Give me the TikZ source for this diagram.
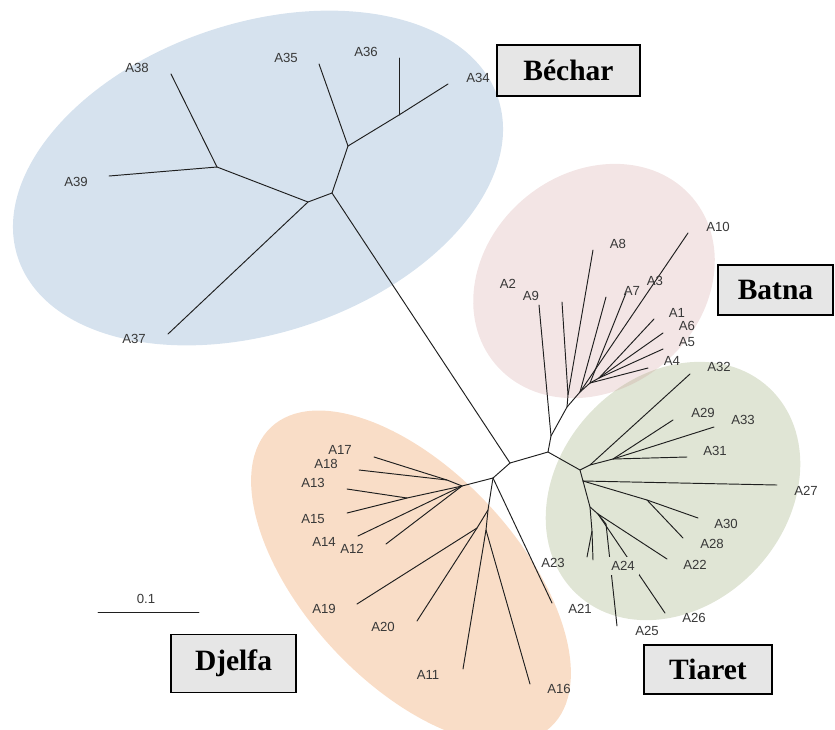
\documentclass[tikz,border=0pt]{standalone}
\usepackage{fontspec}
\setmainfont{Liberation Serif}
\setsansfont{Liberation Sans}
\definecolor{cblue}{RGB}{214,226,238}
\definecolor{cpink}{RGB}{243,229,229}
\definecolor{cgreen}{RGB}{224,229,213}
\definecolor{corange}{RGB}{249,221,199}
\definecolor{cmix}{RGB}{218,209,196}
\definecolor{boxgray}{RGB}{230,230,230}
\begin{document}
\begin{tikzpicture}[x=1pt,y=-1pt,
  br/.style={line width=0.95pt, draw=black!88, line cap=round, line join=round},
  lab/.style={font=\sffamily\fontsize{13.2}{15}\selectfont, text=black!78, inner sep=0pt},
  regbox/.style={draw=black, line width=1.3pt, fill=boxgray, inner sep=0pt,
     font=\bfseries\fontsize{29.5}{31}\selectfont}]
\useasboundingbox (0,0) rectangle (835,729);
\clip (0,0) rectangle (835,729);
% ---- regions ----
\fill[cblue, rotate around={18.4:(258,178)}] (258,178) ellipse [x radius=253pt, y radius=155pt];
\fill[cpink, rotate around={40:(594,281)}] (594,281) ellipse [x radius=129pt, y radius=108pt];
\fill[cgreen, rotate around={47:(673,491)}] (673,491) ellipse [x radius=141pt, y radius=114pt];
\begin{scope}
  \clip[rotate around={40:(594,281)}] (594,281) ellipse [x radius=129pt, y radius=108pt];
  \fill[cmix, rotate around={47:(673,491)}] (673,491) ellipse [x radius=141pt, y radius=114pt];
\end{scope}
\fill[corange, rotate around={-47:(411,577)}] (411,577) ellipse [x radius=205pt, y radius=106pt];
% ---- tree coordinates ----
\coordinate (N1) at (510,463);
\coordinate (N2) at (548,452);
% Bechar
\coordinate (C1) at (332,193);
\coordinate (C2) at (308,202);
\coordinate (C3) at (217,167);
\coordinate (C4) at (348,146);
\coordinate (C5) at (399,115);
\coordinate (a38) at (171,74);
\coordinate (a39) at (109,176);
\coordinate (a37) at (168,334);
\coordinate (a35) at (319,64);
\coordinate (a36) at (399,58);
\coordinate (a34) at (448,84);
% Batna
\coordinate (B1) at (551,436);
\coordinate (a9) at (539,305);
\coordinate (B2) at (567,407);
\coordinate (B3) at (568,395);
\coordinate (a2) at (562,302);
\coordinate (a8) at (593,250);
\coordinate (B4) at (580,392);
\coordinate (a7) at (606,297);
\coordinate (a10) at (688,233);
\coordinate (B5) at (590,383);
\coordinate (a3) at (626,293);
\coordinate (B6) at (599,378);
\coordinate (a1) at (654,319);
\coordinate (a6) at (663,333);
\coordinate (a5) at (663,349);
\coordinate (a4) at (648,368);
% Tiaret
\coordinate (T1) at (580,470);
\coordinate (T2) at (590,465);
\coordinate (a32) at (690,374);
\coordinate (T3) at (613,459);
\coordinate (a29) at (673,420);
\coordinate (a33) at (714,427);
\coordinate (a31) at (687,457);
\coordinate (T4) at (583,481);
\coordinate (a27) at (777,485);
\coordinate (T5) at (647,500);
\coordinate (a30) at (698,518);
\coordinate (a28) at (683,538);
\coordinate (T6) at (590,507);
\coordinate (T7) at (592,531);
\coordinate (s1) at (593,560);
\coordinate (s2) at (587,557);
\coordinate (T8) at (598,514);
\coordinate (a22) at (667,559);
\coordinate (a26) at (665,613);
\coordinate (T10) at (606,524);
\coordinate (a25) at (617,626);
% Djelfa
\coordinate (D1) at (493,478);
\coordinate (D2) at (462,486);
\coordinate (D3) at (447,480);
\coordinate (a17) at (374,457);
\coordinate (a18) at (359,470);
\coordinate (D5) at (407,498);
\coordinate (a13) at (347,489);
\coordinate (a15) at (347,513);
\coordinate (a14) at (358,536);
\coordinate (a12) at (386,544);
\coordinate (D7) at (488,510);
\coordinate (D8) at (477,528);
\coordinate (a19) at (357,604);
\coordinate (a20) at (417,621);
\coordinate (D9) at (486,530);
\coordinate (a11) at (463,669);
\coordinate (a16) at (530,684);
\coordinate (a21) at (552,603);
% scale bar
\coordinate (sb1) at (98,612);
\coordinate (sb2) at (199,612);
% ---- branches ----
\draw[br] (N1) -- (N2);
\draw[br] (N1) -- (C1);
\draw[br] (C1) -- (C2) -- (C3) -- (a38);
\draw[br] (C3) -- (a39);
\draw[br] (C2) -- (a37);
\draw[br] (C1) -- (C4) -- (a35);
\draw[br] (C4) -- (C5) -- (a34);
\draw[br] (C5) -- (a36);
\draw[br] (N2) -- (B1) -- (a9);
\draw[br] (B1) -- (B2) -- (B3) -- (a2);
\draw[br] (B3) -- (a8);
\draw[br] (B2) -- (B4) -- (a7);
\draw[br] (B4) -- (a10);
\draw[br] (B4) -- (B5) -- (a3);
\draw[br] (B5) -- (a4);
\draw[br] (B5) -- (B6) -- (a1);
\draw[br] (B6) -- (a6);
\draw[br] (B6) -- (a5);
\draw[br] (N2) -- (T1) -- (T2) -- (a32);
\draw[br] (T2) -- (T3) -- (a29);
\draw[br] (T3) -- (a33);
\draw[br] (T3) -- (a31);
\draw[br] (T1) -- (T4) -- (a27);
\draw[br] (T4) -- (T5) -- (a30);
\draw[br] (T5) -- (a28);
\draw[br] (T4) -- (T6) -- (T7) -- (s1);
\draw[br] (T7) -- (s2);
\draw[br] (T6) -- (T8) -- (a22);
\draw[br] (T8) -- (a26);
\draw[br] (T8) -- (T10) -- (a25);
\draw[br] (N1) -- (D1) -- (D2) -- (D3) -- (a17);
\draw[br] (D3) -- (a18);
\draw[br] (D2) -- (D5) -- (a13);
\draw[br] (D5) -- (a15);
\draw[br] (D2) -- (a14);
\draw[br] (D2) -- (a12);
\draw[br] (D1) -- (D7) -- (D8) -- (a19);
\draw[br] (D8) -- (a20);
\draw[br] (D7) -- (D9) -- (a11);
\draw[br] (D9) -- (a16);
\draw[br] (D1) -- (a21);
\draw[br] (sb1) -- (sb2);
% ---- labels ----
\node[lab] (lA38) at (137,68) {A38};
\node[lab] (lA35) at (286,58) {A35};
\node[lab] (lA36) at (366,52) {A36};
\node[lab] (lA34) at (478,78) {A34};
\node[lab] (lA39) at (76,182) {A39};
\node[lab] (lA37) at (134,339) {A37};
\node[lab] (lA10) at (718,227) {A10};
\node[lab] (lA8) at (618,244) {A8};
\node[lab] (lA2) at (508,284) {A2};
\node[lab] (lA9) at (531,296) {A9};
\node[lab] (lA7) at (632,291) {A7};
\node[lab] (lA3) at (655,281) {A3};
\node[lab] (lA1) at (677,313) {A1};
\node[lab] (lA6) at (687,326) {A6};
\node[lab] (lA5) at (687,342) {A5};
\node[lab] (lA4) at (672,361) {A4};
\node[lab] (lA32) at (719,367) {A32};
\node[lab] (lA29) at (703,413) {A29};
\node[lab] (lA33) at (743,420) {A33};
\node[lab] (lA31) at (715,451) {A31};
\node[lab] (lA27) at (806,491) {A27};
\node[lab] (lA30) at (726,524) {A30};
\node[lab] (lA28) at (712,544) {A28};
\node[lab] (lA22) at (695,565) {A22};
\node[lab, fill=cgreen, inner xsep=4pt, inner ysep=4pt] (lA24) at (623,566) {A24};
\node[lab] (lA23) at (553,563) {A23};
\node[lab] (lA21) at (580,609) {A21};
\node[lab] (lA26) at (694,618) {A26};
\node[lab] (lA25) at (647,631) {A25};
\node[lab] (lA17) at (340,450) {A17};
\node[lab] (lA18) at (326,464) {A18};
\node[lab] (lA13) at (313,483) {A13};
\node[lab] (lA15) at (313,519) {A15};
\node[lab] (lA14) at (324,542) {A14};
\node[lab] (lA12) at (352,549) {A12};
\node[lab] (lA19) at (324,609) {A19};
\node[lab] (lA20) at (383,627) {A20};
\node[lab] (lA11) at (428,675) {A11};
\node[lab] (lA16) at (559,689) {A16};
\node[lab] (scale) at (146,599) {0.1};
% ---- region boxes ----
\node[regbox, minimum width=143pt, minimum height=51pt] (bechar) at (568.5,70.5) {Béchar};
\node[regbox, minimum width=115pt, minimum height=50pt] (batna) at (775.5,290) {Batna};
\node[regbox, minimum width=125pt, minimum height=58pt] (djelfa) at (233.5,663.5) {Djelfa};
\node[regbox, minimum width=128pt, minimum height=49pt] (tiaret) at (708,669.5) {Tiaret};
\end{tikzpicture}
\end{document}
